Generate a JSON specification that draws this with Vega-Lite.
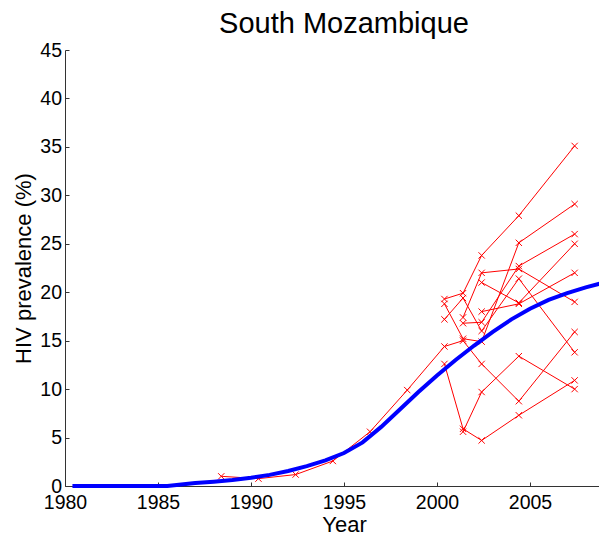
{
  "$schema": "https://vega.github.io/schema/vega-lite/v6.json",
  "width": 558,
  "height": 436,
  "autosize": {"type": "none"},
  "padding": {"left": 65, "top": 50, "right": 0, "bottom": 52},
  "background": "white",
  "title": {
    "text": "South Mozambique",
    "font": "Liberation Sans",
    "fontSize": 29,
    "fontWeight": "normal",
    "color": "black",
    "baseline": "alphabetic",
    "anchor": "middle",
    "frame": "group",
    "offset": -22
  },
  "config": {
    "view": {"stroke": null},
    "axis": {
      "grid": false,
      "domainColor": "#333333",
      "tickColor": "#333333",
      "tickSize": -4,
      "labelFont": "Liberation Sans",
      "labelFontSize": 19.5,
      "labelColor": "black",
      "titleFont": "Liberation Sans",
      "titleFontSize": 22,
      "titleFontWeight": "normal",
      "titleColor": "black",
      "labelOverlap": false,
      "labelFlush": false
    }
  },
  "datasets": {
    "model": [
      {"year": 1980.4, "p": 0},
      {"year": 1985.5, "p": 0},
      {"year": 1986, "p": 0.1},
      {"year": 1987, "p": 0.3},
      {"year": 1988, "p": 0.45},
      {"year": 1989, "p": 0.63},
      {"year": 1990, "p": 0.86},
      {"year": 1991, "p": 1.15},
      {"year": 1992, "p": 1.55},
      {"year": 1993, "p": 2.05},
      {"year": 1994, "p": 2.65},
      {"year": 1995, "p": 3.4},
      {"year": 1996, "p": 4.5},
      {"year": 1997, "p": 6.1},
      {"year": 1998, "p": 7.9},
      {"year": 1999, "p": 9.7},
      {"year": 2000, "p": 11.4},
      {"year": 2001, "p": 13.0},
      {"year": 2002, "p": 14.5},
      {"year": 2003, "p": 15.9},
      {"year": 2004, "p": 17.2},
      {"year": 2005, "p": 18.3},
      {"year": 2006, "p": 19.2},
      {"year": 2007, "p": 19.9},
      {"year": 2008, "p": 20.5},
      {"year": 2009, "p": 21.0},
      {"year": 2010, "p": 21.4}
    ],
    "sites": [
      {"site": "A", "year": 1988.4, "v": 1.0},
      {"site": "A", "year": 1990.4, "v": 0.76},
      {"site": "A", "year": 1992.4, "v": 1.18},
      {"site": "A", "year": 1994.4, "v": 2.58},
      {"site": "A", "year": 1996.4, "v": 5.6},
      {"site": "A", "year": 1998.4, "v": 9.9},
      {"site": "A", "year": 2000.4, "v": 14.4},
      {"site": "A", "year": 2001.4, "v": 15.0},
      {"site": "A", "year": 2002.4, "v": 12.6},
      {"site": "A", "year": 2004.4, "v": 8.75},
      {"site": "A", "year": 2007.4, "v": 15.9},
      {"site": "B", "year": 2000.4, "v": 19.3},
      {"site": "B", "year": 2001.4, "v": 19.9},
      {"site": "B", "year": 2002.4, "v": 23.8},
      {"site": "B", "year": 2004.4, "v": 27.9},
      {"site": "B", "year": 2007.4, "v": 35.1},
      {"site": "C", "year": 2000.4, "v": 18.8},
      {"site": "C", "year": 2001.4, "v": 15.2},
      {"site": "C", "year": 2002.4, "v": 14.9},
      {"site": "C", "year": 2004.4, "v": 25.1},
      {"site": "C", "year": 2007.4, "v": 29.1},
      {"site": "D", "year": 2000.4, "v": 17.2},
      {"site": "D", "year": 2001.4, "v": 19.4},
      {"site": "D", "year": 2002.4, "v": 16.0},
      {"site": "D", "year": 2004.4, "v": 21.4},
      {"site": "D", "year": 2007.4, "v": 13.8},
      {"site": "E", "year": 2000.4, "v": 12.6},
      {"site": "E", "year": 2001.4, "v": 5.9},
      {"site": "E", "year": 2002.4, "v": 4.7},
      {"site": "E", "year": 2004.4, "v": 7.3},
      {"site": "E", "year": 2007.4, "v": 10.9},
      {"site": "F", "year": 2001.4, "v": 5.6},
      {"site": "F", "year": 2002.4, "v": 9.7},
      {"site": "F", "year": 2004.4, "v": 13.4},
      {"site": "F", "year": 2007.4, "v": 10.0},
      {"site": "G", "year": 2001.4, "v": 17.4},
      {"site": "G", "year": 2002.4, "v": 22.0},
      {"site": "G", "year": 2004.4, "v": 22.4},
      {"site": "G", "year": 2007.4, "v": 19.0},
      {"site": "H", "year": 2001.4, "v": 16.8},
      {"site": "H", "year": 2002.4, "v": 16.9},
      {"site": "H", "year": 2004.4, "v": 22.7},
      {"site": "H", "year": 2007.4, "v": 26.0},
      {"site": "I", "year": 2002.4, "v": 21.0},
      {"site": "I", "year": 2004.4, "v": 18.9},
      {"site": "I", "year": 2007.4, "v": 25.0},
      {"site": "J", "year": 2002.4, "v": 18.0},
      {"site": "J", "year": 2004.4, "v": 18.8},
      {"site": "J", "year": 2007.4, "v": 22.0}
    ]
  },
  "encoding": {
    "x": {
      "field": "year",
      "type": "quantitative",
      "scale": {"domain": [1980, 2010], "nice": false, "zero": false},
      "axis": {
        "title": "Year",
        "values": [1980, 1985, 1990, 1995, 2000, 2005, 2010],
        "format": "d",
        "labelPadding": 11.5,
        "titleY": 45,
        "titleBaseline": "alphabetic"
      }
    }
  },
  "layer": [
    {
      "data": {"name": "sites"},
      "mark": {"type": "line", "color": "#ff0000", "strokeWidth": 1},
      "encoding": {
        "y": {
          "field": "v",
          "type": "quantitative",
          "scale": {"domain": [0, 45], "nice": false},
          "axis": {
            "title": "HIV prevalence (%)",
            "values": [0, 5, 10, 15, 20, 25, 30, 35, 40, 45],
            "labelPadding": 7.5,
            "titleX": -35,
            "titleBaseline": "alphabetic"
          }
        },
        "detail": {"field": "site"}
      }
    },
    {
      "data": {"name": "sites"},
      "mark": {"type": "point", "shape": "M-1,-1L1,1M-1,1L1,-1", "filled": false, "color": "#ff0000", "size": 40, "strokeWidth": 1, "opacity": 1},
      "encoding": {
        "y": {"field": "v", "type": "quantitative"}
      }
    },
    {
      "data": {"name": "model"},
      "mark": {"type": "line", "color": "#0000ff", "strokeWidth": 4},
      "encoding": {
        "y": {"field": "p", "type": "quantitative"}
      }
    }
  ]
}
